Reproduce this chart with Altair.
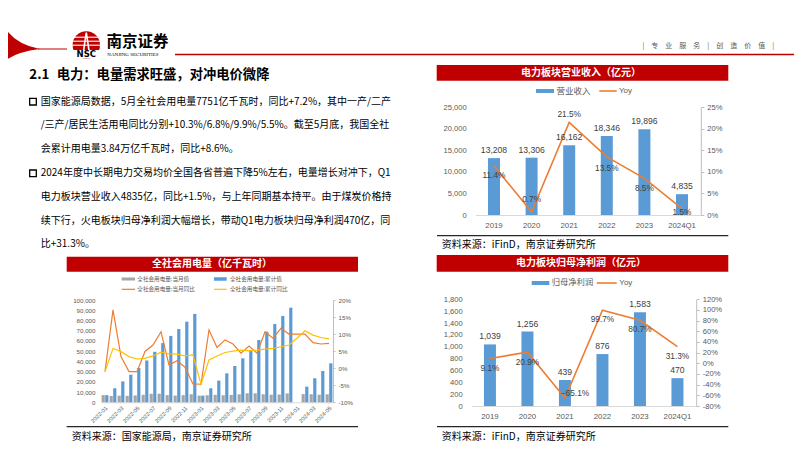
import altair as alt
import pandas as pd

W, H = 786, 435
CJK = "Noto Sans CJK SC"
NUM = "Liberation Sans"
SERIF = "Liberation Serif"
RED = "#C00000"
BLUE = "#5B9BD5"
ORANGE = "#ED7D31"
GRAYBAR = "#A5A5A5"
YELLOW = "#FFC000"
AXT = "#595959"
LBL = "#404040"

# ---------------- data ----------------
years = ["2019", "2020", "2021", "2022", "2023", "2024Q1"]
revenue = [13208, 13306, 16162, 18346, 19896, 4835]
revenue_yoy = [11.4, 0.7, 21.5, 13.5, 8.5, 1.5]
profit = [1039, 1256, 439, 876, 1583, 470]
profit_yoy = [9.1, 20.9, -65.1, 99.7, 80.7, 31.3]

months = ["2022-01", "2022-02", "2022-03", "2022-04", "2022-05", "2022-06",
          "2022-07", "2022-08", "2022-09", "2022-10", "2022-11", "2022-12",
          "2023-01", "2023-02", "2023-03", "2023-04", "2023-05", "2023-06",
          "2023-07", "2023-08", "2023-09", "2023-10", "2023-11", "2023-12",
          "2024-01", "2024-02", "2024-03", "2024-04", "2024-05"]
power_month = [7000, 6200, 6500, 6300, 6700, 7300, 8300, 8400, 7000, 6600, 7000, 7900,
               6500, 6900, 7300, 6900, 7200, 7800, 8800, 8800, 7800, 7400, 7600, 8700,
               None, 8000, 7900, 7400, 7800]
power_cum = [7000, 13700, 20400, 27000, 33600, 40900, 49300, 57900, 64900, 71600, 78800, 86400,
             6500, 13700, 21200, 28300, 35500, 43000, 51100, 60900, 69000, 76500, 84400, 92500,
             None, 15300, 23500, 30600, 38100]
power_month_yoy = [-1.0, 17.1, 3.4, -1.0, -1.0, 4.9, 6.8, 10.7, 0.9, 2.2, 0.3, -4.6,
                   -4.7, 11.2, 6.1, 8.3, 7.1, 4.4, 6.5, 4.4, 10.7, 8.8, 11.7, 10.0,
                   10.0, 10.0, 7.5, 7.1, 7.3]
power_cum_yoy = [-1.0, 5.8, 4.9, 3.4, 2.7, 2.9, 3.6, 4.7, 4.2, 4.1, 3.6, 3.9,
                 -4.7, 2.4, 3.6, 4.6, 5.0, 5.3, 5.1, 5.3, 5.6, 5.8, 6.3, 6.8,
                 8.8, 11.0, 9.7, 9.0, 8.6]

title_num = "2.1"
title_txt = "电力：电量需求旺盛，对冲电价微降"
bullet1 = ["国家能源局数据，5月全社会用电量7751亿千瓦时，同比+7.2%，其中一产/二产",
           "/三产/居民生活用电同比分别+10.3%/6.8%/9.9%/5.5%。截至5月底，我国全社",
           "会累计用电量3.84万亿千瓦时，同比+8.6%。"]
bullet2 = ["2024年度中长期电力交易均价全国各省普遍下降5%左右，电量增长对冲下，Q1",
           "电力板块营业收入4835亿，同比+1.5%，与上年同期基本持平。由于煤炭价格持",
           "续下行，火电板块归母净利润大幅增长，带动Q1电力板块归母净利润470亿，同",
           "比+31.3%。"]

ONE = pd.DataFrame({"k": [0]})


def sx(v):
    return v - 8


def sy(v):
    return v - 8


def T(x, y, s, size, color="#000000", weight="normal", align="left", font=CJK):
    return alt.Chart(ONE).mark_text(text=s, fontSize=size, color=color, fontWeight=weight,
                                    align=align, baseline="middle", font=font).encode(
        x=alt.value(sx(x)), y=alt.value(sy(y)))


def HL(x1, x2, y, color, w):
    return alt.Chart(ONE).mark_rule(color=color, strokeWidth=w).encode(
        x=alt.value(sx(x1)), x2=alt.value(sx(x2)), y=alt.value(sy(y)))


def RECT(x1, x2, y1, y2, color):
    return alt.Chart(ONE).mark_rect(color=color).encode(
        x=alt.value(sx(x1)), x2=alt.value(sx(x2)), y=alt.value(sy(y1)), y2=alt.value(sy(y2)))


def SHAPE(x, y, path, size, color, filled=True, sw=1.0):
    return alt.Chart(ONE).mark_point(shape=path, size=size, filled=filled, color=color,
                                     opacity=1, strokeWidth=sw).encode(
        x=alt.value(sx(x)), y=alt.value(sy(y)))


def unit(px, py, c0, c1, h):
    return f"{(px - c0) / h:.3f},{(py - c1) / h:.3f}"


# ---------------- bar + line panels ----------------
def bar_line_panel(cats, vals, yoys, x0, x1, ybot, ytop, ydom, yticks, pdom, pticks, offsets):
    df = pd.DataFrame({"cat": cats, "val": vals, "yoy": yoys})
    xsc = alt.Scale(domain=cats, range=[sx(x0), sx(x1)], paddingInner=0, paddingOuter=0)

    def X(axis=None):
        return alt.X("cat:N", sort=cats, scale=xsc, axis=axis)

    ysc = alt.Scale(domain=ydom, range=[sy(ybot), sy(ytop)], nice=False, zero=False)
    psc = alt.Scale(domain=pdom, range=[sy(ybot), sy(ytop)], nice=False, zero=False)
    xaxis = alt.Axis(title=None, orient="bottom", labelAngle=0, offset=sy(ybot) - H,
                     domainColor="#D9D9D9", ticks=False, tickSize=0, labelPadding=6,
                     labelFont=NUM, labelFontSize=7.8, labelColor=AXT, grid=False)
    yaxis = alt.Axis(title=None, orient="left", values=yticks, format=",.0f", offset=-sx(x0),
                     domain=False, ticks=False, tickSize=0, labelPadding=9, labelFont=NUM,
                     labelFontSize=7.6, labelColor=AXT, grid=False)
    paxis = alt.Axis(title=None, orient="right", values=pticks, labelExpr="datum.value + '%'",
                     offset=sx(x1) - W, domain=True, domainColor="#BFBFBF", ticks=True,
                     tickColor="#BFBFBF", tickSize=3, labelPadding=3, labelFont=NUM,
                     labelFontSize=7.6, labelColor=AXT, grid=False)
    base = alt.Chart(df)
    bars = base.mark_bar(size=12, color=BLUE).encode(
        x=X(xaxis), y=alt.Y("val:Q", scale=ysc, axis=yaxis))
    vlab = base.mark_text(dy=-8, fontSize=8.6, font=NUM, color=LBL).encode(
        x=X(), y=alt.Y("val:Q", scale=ysc, axis=None), text=alt.Text("val:Q", format=",.0f"))
    line = base.mark_line(color=ORANGE, strokeWidth=1.6).encode(
        x=X(), y=alt.Y("yoy:Q", scale=psc, axis=paxis))
    layers = [bars, line, vlab]
    for cat, (dx, dy) in offsets.items():
        layers.append(
            base.transform_filter(alt.datum.cat == cat)
            .transform_calculate(lbl="format(datum.yoy, '.1f') + '%'")
            .mark_text(dx=dx, dy=dy, fontSize=8.3, font=NUM, color=LBL)
            .encode(x=X(), y=alt.Y("yoy:Q", scale=psc, axis=None), text="lbl:N"))
    return layers


r1 = bar_line_panel(years, revenue, revenue_yoy, 475.2, 700.8, 215, 107.3,
                    [0, 25000], [0, 5000, 10000, 15000, 20000, 25000],
                    [0, 25], [0, 5, 10, 15, 20, 25],
                    {"2019": (0, 10), "2020": (0, -12), "2021": (0, -7),
                     "2022": (0, 12), "2023": (0, 11), "2024Q1": (0, 4)})

r2 = bar_line_panel(years, profit, profit_yoy, 471.2, 696.2, 406, 299.3,
                    [0, 1800], [0, 200, 400, 600, 800, 1000, 1200, 1400, 1600, 1800],
                    [-80, 120], [-80, -60, -40, -20, 0, 20, 40, 60, 80, 100, 120],
                    {"2019": (0, 11), "2020": (0, 11), "2021": (10, -4),
                     "2022": (0, 10), "2023": (0, 10), "2024Q1": (0, 10)})

# ---------------- monthly power panel ----------------
dfp = pd.DataFrame({"m": months, "mv": power_month, "cv": power_cum,
                    "my": power_month_yoy, "cy": power_cum_yoy})
pxsc = alt.Scale(domain=months, range=[sx(101), sx(333)], paddingInner=0, paddingOuter=0)
pysc = alt.Scale(domain=[0, 100000], range=[sy(402.3), sy(300)], nice=False, zero=False)
ppsc = alt.Scale(domain=[-10, 20], range=[sy(402.3), sy(300)], nice=False, zero=False)
px_axis = alt.Axis(title=None, orient="bottom", values=months[::2], labelAngle=315,
                   offset=sy(402.3) - H, domainColor="#D9D9D9", ticks=False, tickSize=0,
                   labelPadding=3, labelFont=NUM, labelFontSize=5.6, labelColor=AXT, grid=False)
py_axis = alt.Axis(title=None, orient="left", values=list(range(0, 100001, 10000)),
                   format=",.0f", offset=-sx(101), domain=False, ticks=False, tickSize=0,
                   labelPadding=6, labelFont=NUM, labelFontSize=6.2, labelColor=AXT, grid=False)
pp_axis = alt.Axis(title=None, orient="right", values=[-10, -5, 0, 5, 10, 15, 20],
                   labelExpr="datum.value + '%'", offset=sx(333) - W, domain=True,
                   domainColor="#BFBFBF", ticks=True, tickColor="#BFBFBF", tickSize=2,
                   labelPadding=3, labelFont=NUM, labelFontSize=6.2, labelColor=AXT, grid=False)
pbase = alt.Chart(dfp)
p_gray = pbase.mark_bar(size=3.2, xOffset=-1.8, color=GRAYBAR).encode(
    x=alt.X("m:N", sort=months, scale=pxsc, axis=px_axis),
    y=alt.Y("mv:Q", scale=pysc, axis=py_axis))
p_blue = pbase.mark_bar(size=3.2, xOffset=1.8, color=BLUE).encode(
    x=alt.X("m:N", sort=months, scale=pxsc, axis=None),
    y=alt.Y("cv:Q", scale=pysc, axis=None))
p_or = pbase.mark_line(color=ORANGE, strokeWidth=1.2).encode(
    x=alt.X("m:N", sort=months, scale=pxsc, axis=None),
    y=alt.Y("my:Q", scale=ppsc, axis=pp_axis))
p_ye = pbase.mark_line(color=YELLOW, strokeWidth=1.2).encode(
    x=alt.X("m:N", sort=months, scale=pxsc, axis=None),
    y=alt.Y("cy:Q", scale=ppsc, axis=None))

# ---------------- decorations / slide text ----------------
deco = []
c0, c1, hh = 20, 41, 26
swoosh = ("M" + unit(-10, 10, c0, c1, hh) + " L" + unit(0, 15, c0, c1, hh) +
          " Q" + unit(6, 42, c0, c1, hh) + " " + unit(40, 49, c0, c1, hh) +
          " Q" + unit(8, 53, c0, c1, hh) + " " + unit(0, 67, c0, c1, hh) +
          " L" + unit(-10, 67, c0, c1, hh) + " Z")
deco.append(SHAPE(c0, c1, swoosh, (2 * hh) ** 2, RED))
deco.append(HL(38, 67, 49, RED, 1))
# emblem
deco.append(SHAPE(86.3, 45, "circle", 27.4 ** 2, RED))
for yy in [37.2, 41.2, 45.2]:
    deco.append(HL(72, 101, yy, "#FFFFFF", 1.1))
deco.append(SHAPE(86.3, 41.5, "M-0.3,1 L0,-1 L0.3,1", 18 ** 2, "#FFFFFF", filled=False, sw=1.6))
deco.append(RECT(71, 102, 50, 58.5, "#FFFFFF"))
deco.append(T(86.3, 54.2, "NSC", 8.5, "#000000", "bold", "center", "DejaVu Sans"))
deco.append(T(106.5, 41.5, "南京证券", 15.5, "#000000", "bold"))
deco.append(T(107.3, 54.3, "NANJING SECURITIES", 5, "#000000", "normal", "left", SERIF))
deco.append(HL(175, 802, 54.5, RED, 1.4))
deco.append(T(708.3, 45.7, "|　专　业　服　务　|　创　造　价　值　|", 7, AXT, align="center"))

# title + bullets
deco.append(T(29.3, 75, title_num, 13.3, "#000000", "bold"))
deco.append(T(56.7, 75, title_txt, 13.3, "#000000", "bold"))
line_y1 = [101.7, 125.0, 149.3]
line_y2 = [173.3, 196.7, 220.7, 244.0]
for yy, s in zip(line_y1, bullet1):
    deco.append(T(40.7, yy, s, 10, "#000000"))
for yy, s in zip(line_y2, bullet2):
    deco.append(T(40.7, yy, s, 10, "#000000"))
for yy in [line_y1[0], line_y2[0]]:
    deco.append(SHAPE(33, yy, "square", 44, "#000000", filled=False, sw=1.3))

# left chart frame
deco.append(RECT(66.7, 358, 256.7, 271.7, RED))
deco.append(T(212, 264.2, "全社会用电量（亿千瓦时）", 10, "#FFFFFF", "bold", "center"))
deco.append(HL(121.7, 135, 279, GRAYBAR, 3))
deco.append(T(137.3, 279, "全社会用电量:当月值", 5.6, AXT))
deco.append(HL(214, 226.7, 279, BLUE, 3.5))
deco.append(T(230, 279, "全社会用电量:累计值", 5.6, AXT))
deco.append(HL(121.7, 135, 289.3, ORANGE, 1.2))
deco.append(T(137.3, 289.3, "全社会用电量:当月同比", 5.6, AXT))
deco.append(HL(214, 226.7, 289.3, YELLOW, 1.2))
deco.append(T(230, 289.3, "全社会用电量:累计同比", 5.6, AXT))
deco.append(HL(66.7, 358, 426.7, "#262626", 1.3))
deco.append(T(71.7, 437, "资料来源：国家能源局，南京证券研究所", 10, "#000000"))

# right top frame
deco.append(RECT(436.7, 728.3, 65, 80.7, RED))
deco.append(T(581, 72.8, "电力板块营业收入（亿元）", 10, "#FFFFFF", "bold", "center"))
deco.append(RECT(536, 554, 89, 93, BLUE))
deco.append(T(556.5, 91, "营业收入", 8.5, AXT))
deco.append(HL(599.3, 616.7, 91, ORANGE, 1.6))
deco.append(T(619, 91, "Yoy", 8, AXT, font=NUM))
deco.append(HL(437, 728.3, 235.7, "#262626", 1.3))
deco.append(T(441.7, 245, "资料来源：iFinD，南京证券研究所", 10, "#000000"))

# right bottom frame
deco.append(RECT(436.7, 728.3, 255, 271.7, RED))
deco.append(T(581, 263.3, "电力板块归母净利润（亿元）", 10, "#FFFFFF", "bold", "center"))
deco.append(RECT(531.7, 549.3, 281, 285, BLUE))
deco.append(T(551.7, 283, "归母净利润", 8.3, AXT))
deco.append(HL(596.7, 616.7, 283, ORANGE, 1.6))
deco.append(T(619.3, 283, "Yoy", 8, AXT, font=NUM))
deco.append(HL(437, 728.3, 426.7, "#262626", 1.3))
deco.append(T(441.7, 436.7, "资料来源：iFinD，南京证券研究所", 10, "#000000"))

layers = deco + [p_gray, p_blue, p_or, p_ye] + r1 + r2

chart = alt.layer(*layers).resolve_scale(
    x="independent", y="independent"
).properties(
    width=W, height=H, autosize=alt.AutoSizeParams(type="none"), padding=0
).configure_view(stroke=None)

chart.save("out.html", embed_options={"renderer": "svg", "actions": False})
